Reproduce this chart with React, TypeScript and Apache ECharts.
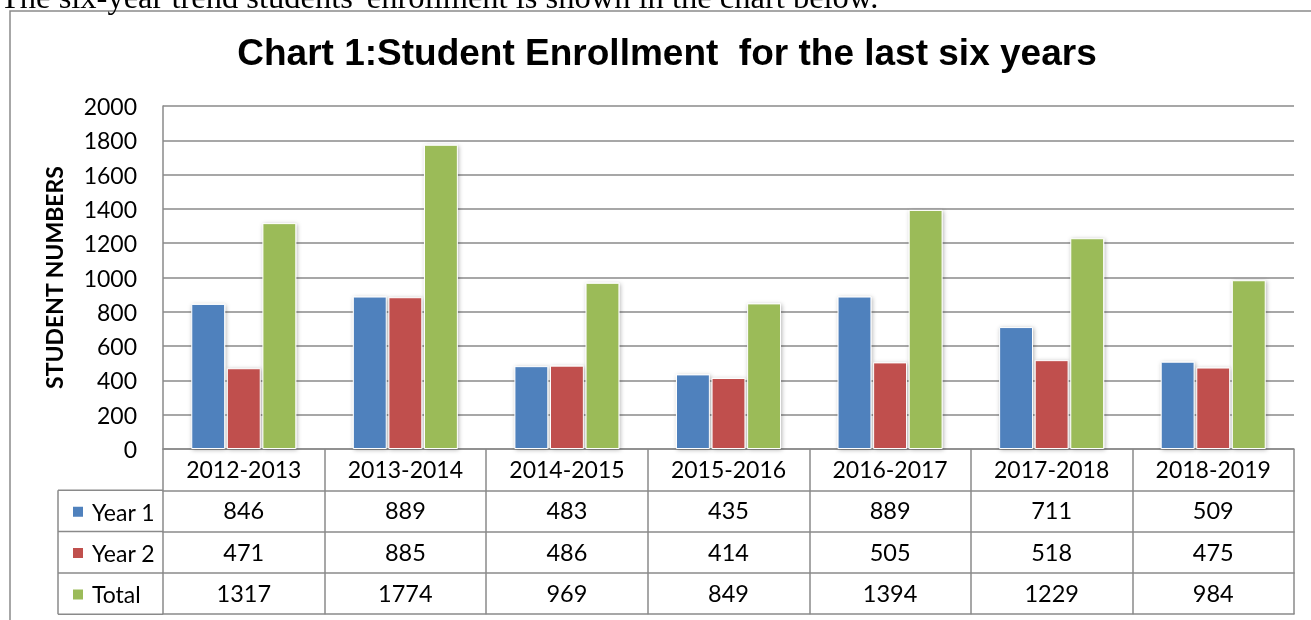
import React, { useEffect, useRef } from "react";
import * as echarts from "echarts";

const categories = ["2012-2013", "2013-2014", "2014-2015", "2015-2016", "2016-2017", "2017-2018", "2018-2019"];
const year1 = [846, 889, 483, 435, 889, 711, 509];
const year2 = [471, 885, 486, 414, 505, 518, 475];
const total = [1317, 1774, 969, 849, 1394, 1229, 984];
const seriesNames = ["Year 1", "Year 2", "Total"];
const colors = ["#4F81BD", "#C0504D", "#9BBB59"];
const titleText = "Chart 1:Student Enrollment  for the last six years";
const introText = "The six-year trend students' enrollment is shown in the chart below.";
const yName = "STUDENT NUMBERS";

const W = 1311;
const H = 620;
const GL = 163;
const GR = 1294;
const GT = 106;
const AX = 449;
const ROW = 41.3;
const LC = 58;
const LINE = "#8a8a8a";
const FONT = "Lato, 'Open Sans', sans-serif";

export default function App() {
  const ref = useRef<HTMLDivElement>(null);
  useEffect(() => {
    document.body.style.margin = "0";
    const chart = echarts.init(ref.current!, null, { renderer: "svg" });
    const rows = [year1, year2, total];
    const valueAxes = rows.map((r, i) => ({
      type: "category",
      gridIndex: 0,
      position: "bottom",
      offset: ROW * (i + 1),
      data: r.map(String),
      axisLine: { show: true, lineStyle: { color: LINE, width: 1.5 } },
      axisTick: { show: false },
      axisLabel: { interval: 0, fontSize: 23.5, fontFamily: FONT, color: "#000", margin: 8 },
      splitLine: { show: false },
    }));
    const bottomAxis = {
      type: "category",
      gridIndex: 0,
      position: "bottom",
      offset: ROW * 4,
      data: categories,
      axisLine: { show: true, lineStyle: { color: LINE, width: 1.5 } },
      axisTick: { show: false },
      axisLabel: { show: false },
    };
    const leftLines: any[] = [];
    for (let i = 1; i <= 4; i++) {
      const y = AX + ROW * i;
      leftLines.push({
        type: "line",
        shape: { x1: LC, y1: y, x2: GL, y2: y },
        style: { stroke: LINE, lineWidth: 1.5 },
      });
    }
    leftLines.push({
      type: "line",
      shape: { x1: LC, y1: AX + ROW, x2: LC, y2: AX + ROW * 4 },
      style: { stroke: LINE, lineWidth: 1.5 },
    });
    chart.setOption({
      animation: false,
      color: colors,
      grid: { left: GL, right: W - GR, top: GT, bottom: H - AX, containLabel: false },
      legend: {
        data: seriesNames,
        orient: "vertical",
        left: 66,
        top: AX + ROW + 5,
        itemWidth: 12,
        itemHeight: 12,
        itemGap: 18.3,
        icon: "rect",
        selectedMode: false,
        textStyle: { fontSize: 23, fontFamily: FONT, color: "#000", padding: [0, 0, 0, 3] },
      },
      xAxis: [
        {
          type: "category",
          data: categories,
          gridIndex: 0,
          position: "bottom",
          axisLine: { show: true, lineStyle: { color: LINE, width: 1.5 } },
          axisTick: { show: true, interval: 0, length: ROW * 4, lineStyle: { color: LINE, width: 1.5 } },
          axisLabel: { interval: 0, fontSize: 23, fontFamily: FONT, color: "#000", margin: 8 },
          splitLine: { show: false },
        },
        ...valueAxes,
        bottomAxis,
      ],
      yAxis: {
        type: "value",
        min: 0,
        max: 2000,
        interval: 200,
        name: yName,
        nameLocation: "middle",
        nameGap: 98,
        nameTextStyle: { fontSize: 23, fontWeight: "bold", fontFamily: FONT, color: "#000" },
        axisLine: { show: true, lineStyle: { color: LINE, width: 1.5 } },
        axisTick: { show: false },
        axisLabel: {
          fontSize: 23,
          fontFamily: FONT,
          color: "#000",
          margin: 26,
          formatter: (v: number) => String(v),
        },
        splitLine: { show: true, lineStyle: { color: LINE, width: 1.5 } },
      },
      series: rows.map((r, i) => ({
        name: seriesNames[i],
        type: "bar",
        xAxisIndex: 0,
        data: r,
        barCategoryGap: "35%",
        barGap: "5%",
        itemStyle: {
          color: colors[i],
          borderColor: "#ffffff",
          borderWidth: 1,
          shadowColor: "rgba(0,0,0,0.3)",
          shadowBlur: 4,
          shadowOffsetX: 1,
          shadowOffsetY: 1,
        },
      })),
      graphic: [
        {
          type: "rect",
          shape: { x: 10, y: 11, width: W + 20, height: H + 20 },
          style: { fill: "none", stroke: LINE, lineWidth: 1.5 },
          silent: true,
        },
        {
          type: "text",
          x: 0,
          y: -3.5,
          style: {
            text: introText,
            fontFamily: "'Liberation Serif', 'Times New Roman', serif",
            fontSize: 32.5,
            fill: "#000",
            textVerticalAlign: "middle",
          },
        },
        {
          type: "text",
          x: 667,
          y: 52,
          style: {
            text: titleText,
            fontFamily: "'Liberation Sans', Arial, sans-serif",
            fontWeight: "bold",
            fontSize: 37,
            fill: "#000",
            textAlign: "center",
            textVerticalAlign: "middle",
          },
        },
        ...leftLines,
      ],
    });
    return () => chart.dispose();
  }, []);
  return <div ref={ref} style={{ position: "fixed", left: 0, top: 0, width: W, height: H }} />;
}
